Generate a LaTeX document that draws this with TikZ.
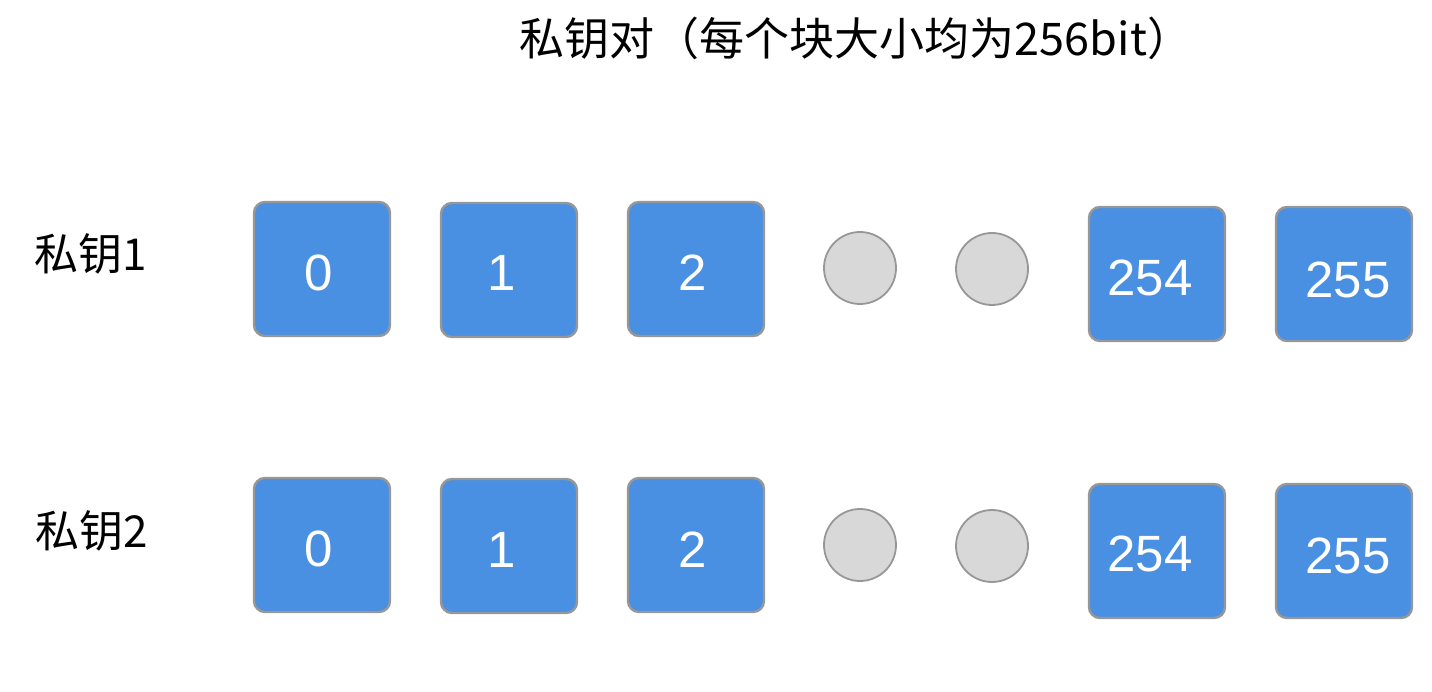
\documentclass[tikz,border=0pt]{standalone}
\usepackage{fontspec}
\setmainfont{Liberation Sans}
\newfontfamily\cjk{Noto Sans CJK SC}
\usetikzlibrary{calc}
\definecolor{boxblue}{HTML}{4A90E2}
\definecolor{edgegray}{HTML}{979797}
\definecolor{dotgray}{HTML}{D8D8D8}
\begin{document}
\begin{tikzpicture}[x=1pt,y=-1pt,
  blk/.style={draw=edgegray,line width=2.4pt,fill=boxblue,rounded corners=11pt,minimum width=136pt,minimum height=134pt,inner sep=0pt},
  dot/.style={circle,draw=edgegray,line width=1.8pt,fill=dotgray,minimum size=72pt,inner sep=0pt},
  num/.style={text=white,font=\fontsize{51}{55}\selectfont,inner sep=0pt,anchor=center},
  lbl/.style={font=\cjk\fontsize{44}{50}\selectfont,inner sep=0pt,anchor=center},
  ttl/.style={font=\cjk\fontsize{45}{50}\selectfont,inner sep=0pt,anchor=center}]
\useasboundingbox (0,0) rectangle (1432,692);
\node[ttl] (title) at (856,38) {私钥对（每个块大小均为256bit）};
\node[lbl] (k1) at (91,254) {私钥1};
\node[lbl] (k2) at (92,531) {私钥2};
% row 1
\node[blk] (a0) at (322,269) {};
\node[blk] (a1) at (509,270) {};
\node[blk] (a2) at (696,269) {};
\node[dot] (ad1) at (860,268) {};
\node[dot] (ad2) at (992,269) {};
\node[blk] (a254) at (1157,274) {};
\node[blk] (a255) at (1344,274) {};
\node[num] (ta0) at ($(a0)+(-3,4)$) {0};
\node[num] (ta1) at ($(a1)+(-7,3)$) {1};
\node[num] (ta2) at ($(a2)+(-3,4)$) {2};
\node[num] (ta254) at ($(a254)+(-7,4)$) {254};
\node[num] (ta255) at ($(a255)+(4,6)$) {255};
% row 2
\node[blk] (b0) at (322,545) {};
\node[blk] (b1) at (509,546) {};
\node[blk] (b2) at (696,545) {};
\node[dot] (bd1) at (860,545) {};
\node[dot] (bd2) at (992,546) {};
\node[blk] (b254) at (1157,551) {};
\node[blk] (b255) at (1344,551) {};
\node[num] (tb0) at ($(b0)+(-3,4)$) {0};
\node[num] (tb1) at ($(b1)+(-7,4)$) {1};
\node[num] (tb2) at ($(b2)+(-3,5)$) {2};
\node[num] (tb254) at ($(b254)+(-7,3)$) {254};
\node[num] (tb255) at ($(b255)+(4,5)$) {255};
\end{tikzpicture}
\end{document}
